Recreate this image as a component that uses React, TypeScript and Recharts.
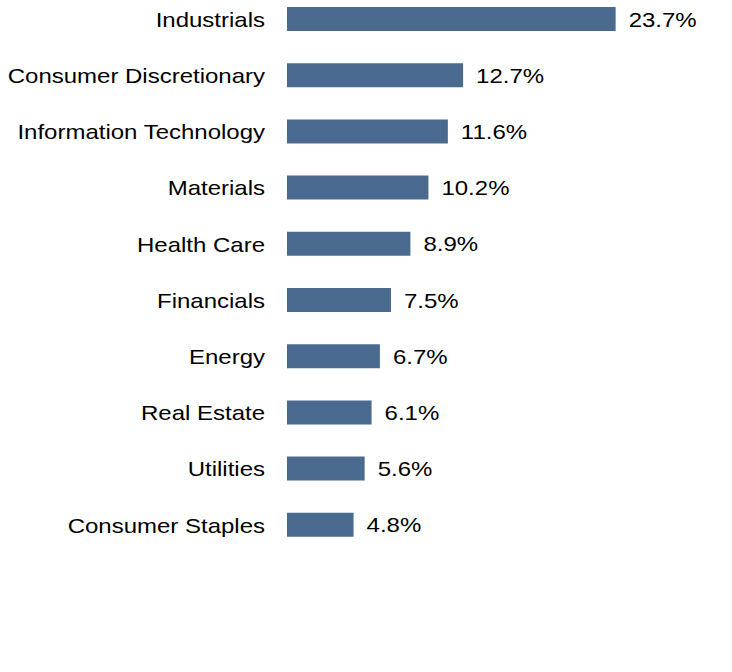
import React from "react";
import { BarChart, Bar, XAxis, YAxis, LabelList } from "recharts";

const sectors = [
  "Industrials",
  "Consumer Discretionary",
  "Information Technology",
  "Materials",
  "Health Care",
  "Financials",
  "Energy",
  "Real Estate",
  "Utilities",
  "Consumer Staples",
];
const weights = [23.7, 12.7, 11.6, 10.2, 8.9, 7.5, 6.7, 6.1, 5.6, 4.8];

const data = sectors.map((name, i) => ({ name, value: weights[i] }));

const FONT = "'Liberation Sans', Arial, sans-serif";

// text in the original is a little wider than plain Arial
const SectorTick = (props: any) => {
  const { x, y, payload } = props;
  return (
    <text
      transform={`translate(${x},${y}) scale(1.2,1)`}
      textAnchor="end"
      dy="0.38em"
      fontSize={20}
      fontFamily={FONT}
      fill="#000"
    >
      {payload.value}
    </text>
  );
};

const ValueLabel = (props: any) => {
  const { x, y, width, height, value } = props;
  return (
    <text
      transform={`translate(${x + width + 13},${y + height / 2}) scale(1.2,1)`}
      textAnchor="start"
      dy="0.38em"
      fontSize={20}
      fontFamily={FONT}
      fill="#000"
    >
      {value.toFixed(1)}%
    </text>
  );
};

export default function App() {
  return (
    <div style={{ position: "absolute", left: 0, top: -9, background: "#fff" }}>
      <BarChart
        layout="vertical"
        width={732}
        height={562}
        data={data}
        margin={{ top: 0, right: 29, bottom: 0, left: 0 }}
      >
        <XAxis type="number" domain={[0, 30]} hide />
        <YAxis
          type="category"
          dataKey="name"
          width={287}
          axisLine={false}
          tickLine={false}
          tickSize={0}
          tickMargin={22}
          tick={<SectorTick />}
          interval={0}
        />
        <Bar dataKey="value" fill="#4a6b8f" barSize={24} isAnimationActive={false}>
          <LabelList dataKey="value" content={<ValueLabel />} />
        </Bar>
      </BarChart>
    </div>
  );
}
